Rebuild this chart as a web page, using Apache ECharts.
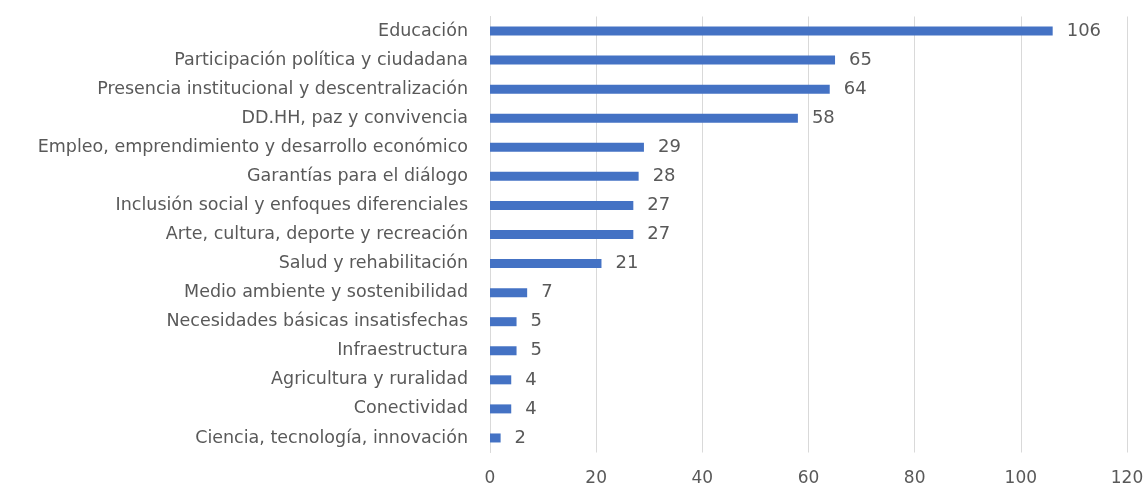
<!DOCTYPE html>
<html><head><meta charset="utf-8">
<script src="https://cdn.jsdelivr.net/npm/echarts@6/dist/echarts.min.js"></script>
<style>html,body{margin:0;padding:0;background:#fff}#c{width:1147px;height:488px}</style>
</head><body><div id="c"></div>
<script>
const categories = [
  "Educación",
  "Participación política y ciudadana",
  "Presencia institucional y descentralización",
  "DD.HH, paz y convivencia",
  "Empleo, emprendimiento y desarrollo económico",
  "Garantías para el diálogo",
  "Inclusión social y enfoques diferenciales",
  "Arte, cultura, deporte y recreación",
  "Salud y rehabilitación",
  "Medio ambiente y sostenibilidad",
  "Necesidades básicas insatisfechas",
  "Infraestructura",
  "Agricultura y ruralidad",
  "Conectividad",
  "Ciencia, tecnología, innovación"
];
const values = [106, 65, 64, 58, 29, 28, 27, 27, 21, 7, 5, 5, 4, 4, 2];
const xTicks = [0, 20, 40, 60, 80, 100, 120];

const chart = echarts.init(document.getElementById('c'));
chart.setOption({
  animation: false,
  grid: {left: 490, right: 20, top: 16.5, bottom: 35.5, containLabel: false},
  xAxis: {
    type: 'value', min: xTicks[0], max: xTicks[xTicks.length-1], interval: 20,
    axisLine: {show: false}, axisTick: {show: false},
    splitLine: {lineStyle: {color: '#d9d9d9', width: 1}},
    axisLabel: {color: '#595959', fontSize: 17, fontFamily: 'DejaVu Sans', margin: 18}
  },
  yAxis: {
    type: 'category', data: categories, inverse: true,
    axisLine: {show: true, lineStyle: {color: '#d9d9d9'}}, axisTick: {show: false},
    axisLabel: {color: '#595959', fontSize: 17.5, fontFamily: 'DejaVu Sans', margin: 22}
  },
  series: [{
    type: 'bar', data: values, barWidth: 9,
    itemStyle: {color: '#4472C4'},
    label: {show: true, position: 'right', distance: 14, color: '#595959', fontSize: 18, fontFamily: 'DejaVu Sans'}
  }]
});
</script></body></html>
